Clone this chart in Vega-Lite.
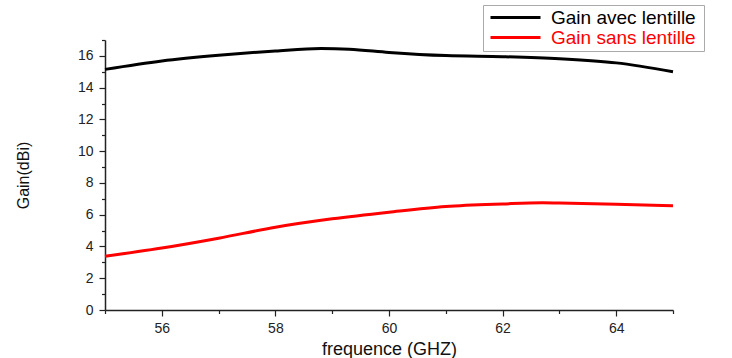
{
  "$schema": "https://vega.github.io/schema/vega-lite/v6.json",
  "autosize": "none",
  "width": 568,
  "height": 270,
  "padding": {"left": 105, "top": 40, "right": 59, "bottom": 48},
  "background": "white",
  "config": {
    "view": {"stroke": null},
    "font": "Liberation Sans",
    "axis": {"grid": false, "domainColor": "#222", "domainWidth": 1.5, "tickColor": "#222", "tickWidth": 1.2, "labelFont": "Liberation Sans", "labelColor": "#222", "titleFont": "Liberation Sans", "titleFontWeight": "normal", "titleColor": "#111"}
  },
  "data": {"values": [
    {"f": 55, "g": 15.15, "s": "Gain avec  lentille"},
    {"f": 56, "g": 15.68, "s": "Gain avec  lentille"},
    {"f": 57, "g": 16.04, "s": "Gain avec  lentille"},
    {"f": 58, "g": 16.31, "s": "Gain avec  lentille"},
    {"f": 58.8, "g": 16.46, "s": "Gain avec  lentille"},
    {"f": 59.3, "g": 16.42, "s": "Gain avec  lentille"},
    {"f": 60, "g": 16.22, "s": "Gain avec  lentille"},
    {"f": 61, "g": 16.02, "s": "Gain avec  lentille"},
    {"f": 62, "g": 15.95, "s": "Gain avec  lentille"},
    {"f": 63, "g": 15.82, "s": "Gain avec  lentille"},
    {"f": 64, "g": 15.56, "s": "Gain avec  lentille"},
    {"f": 65, "g": 15.0, "s": "Gain avec  lentille"},
    {"f": 55, "g": 3.38, "s": "Gain sans lentille"},
    {"f": 56, "g": 3.9, "s": "Gain sans lentille"},
    {"f": 57, "g": 4.52, "s": "Gain sans lentille"},
    {"f": 58, "g": 5.21, "s": "Gain sans lentille"},
    {"f": 59, "g": 5.74, "s": "Gain sans lentille"},
    {"f": 60, "g": 6.16, "s": "Gain sans lentille"},
    {"f": 61, "g": 6.52, "s": "Gain sans lentille"},
    {"f": 62, "g": 6.68, "s": "Gain sans lentille"},
    {"f": 62.7, "g": 6.75, "s": "Gain sans lentille"},
    {"f": 63, "g": 6.73, "s": "Gain sans lentille"},
    {"f": 64, "g": 6.66, "s": "Gain sans lentille"},
    {"f": 65, "g": 6.56, "s": "Gain sans lentille"}
  ]},
  "resolve": {"axis": {"x": "independent", "y": "independent"}},
  "layer": [
    {
      "mark": {"type": "line", "strokeWidth": 3, "interpolate": "monotone"},
      "encoding": {
        "x": {"field": "f", "type": "quantitative", "scale": {"domain": [55, 65], "nice": false, "zero": false},
          "axis": {"orient": "bottom", "values": [56, 58, 60, 62, 64], "tickSize": 6, "labelFontSize": 14, "labelPadding": 5, "title": "frequence (GHZ)", "titleFontSize": 18, "titlePadding": 5}},
        "y": {"field": "g", "type": "quantitative", "scale": {"domain": [0, 17], "nice": false},
          "axis": {"orient": "left", "values": [0, 2, 4, 6, 8, 10, 12, 14, 16], "tickSize": 6, "labelFontSize": 14, "labelPadding": 6, "title": "Gain(dBi)", "titleFontSize": 16, "titlePadding": 46}},
        "color": {"field": "s", "type": "nominal",
          "scale": {"domain": ["Gain avec  lentille", "Gain sans lentille"], "range": ["#000000", "#ff0000"]},
          "legend": {"orient": "none", "legendX": 378, "legendY": -35, "title": null, "symbolType": "M-1,0H9", "symbolSize": 100, "symbolStrokeWidth": 3, "symbolFillColor": "transparent", "labelFont": "Liberation Sans", "labelFontSize": 19, "labelLimit": 300, "strokeColor": "#aaa", "padding": 3, "rowPadding": 0, "labelOffset": 46,
            "encode": {"labels": {"update": {"fill": {"signal": "datum.value == 'Gain sans lentille' ? '#ff0000' : '#000000'"}}}}}
        }
      }
    },
    {
      "mark": {"type": "line", "opacity": 0},
      "encoding": {
        "x": {"field": "f", "type": "quantitative", "axis": {"orient": "bottom", "values": [55, 57, 59, 61, 63, 65], "tickSize": 3.5, "labels": false, "domain": false, "title": null}},
        "y": {"field": "g", "type": "quantitative", "axis": {"orient": "left", "values": [1, 3, 5, 7, 9, 11, 13, 15, 17], "tickSize": 3.5, "labels": false, "domain": false, "title": null}},
        "detail": {"field": "s"}
      }
    }
  ]
}
